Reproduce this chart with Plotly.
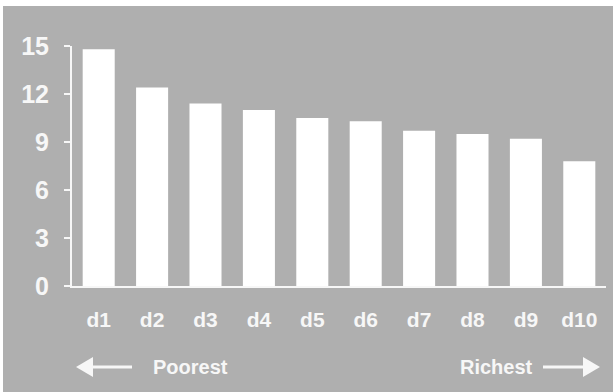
import plotly.graph_objects as go

categories = ["d1", "d2", "d3", "d4", "d5", "d6", "d7", "d8", "d9", "d10"]
values = [14.8, 12.4, 11.4, 11.0, 10.5, 10.3, 9.7, 9.5, 9.2, 7.8]
y_ticks = [0, 3, 6, 9, 12, 15]
left_label = "Poorest"
right_label = "Richest"

W, H = 613, 392
L, R, T, B = 72, 7, 46, 106
PW, PH = W - L - R, H - T - B
BG = "#afafaf"
FG = "#f7f7f7"
FONT = "Liberation Sans, Arial, sans-serif"


def px(x):
    return (x - L) / PW


def py(y):
    return (H - B - y) / PH


fig = go.Figure()
fig.add_trace(go.Bar(x=categories, y=values, marker=dict(color="#ffffff", line=dict(width=0)),
                     width=0.6))

shapes = [
    dict(type="rect", xref="paper", yref="paper", x0=px(3), x1=px(W + 2), y0=py(H + 2), y1=py(6),
         fillcolor=BG, line=dict(width=0), layer="below"),
    # left arrow
    dict(type="line", xref="paper", yref="paper", x0=px(90), x1=px(132), y0=py(367), y1=py(367),
         line=dict(color=FG, width=3)),
    dict(type="path", xref="paper", yref="paper",
         path=f"M {px(76)} {py(367)} L {px(93)} {py(357)} L {px(93)} {py(377)} Z",
         fillcolor=FG, line=dict(width=0)),
    # right arrow
    dict(type="line", xref="paper", yref="paper", x0=px(543), x1=px(585), y0=py(367), y1=py(367),
         line=dict(color=FG, width=3)),
    dict(type="path", xref="paper", yref="paper",
         path=f"M {px(600)} {py(367)} L {px(583)} {py(357)} L {px(583)} {py(377)} Z",
         fillcolor=FG, line=dict(width=0)),
]

annotations = [
    dict(text=left_label, xref="paper", yref="paper", x=px(190), y=py(367),
         showarrow=False, font=dict(family=FONT, size=20, color=FG, weight="bold"),
         xanchor="center", yanchor="middle"),
    dict(text=right_label, xref="paper", yref="paper", x=px(497), y=py(367),
         showarrow=False, font=dict(family=FONT, size=20, color=FG, weight="bold"),
         xanchor="center", yanchor="middle"),
]

fig.update_layout(
    width=W, height=H,
    margin=dict(l=L, r=R, t=T, b=B, pad=0),
    paper_bgcolor="#ffffff",
    plot_bgcolor="rgba(0,0,0,0)",
    bargap=0.4,
    showlegend=False,
    shapes=shapes,
    annotations=annotations,
    xaxis=dict(
        showline=True, linecolor=FG, linewidth=2, ticks="", showgrid=False,
        tickfont=dict(family=FONT, size=21, color=FG, weight="bold"), ticklabelstandoff=14,
    ),
    yaxis=dict(
        range=[0, 15], tickvals=y_ticks, showline=True, linecolor=FG, linewidth=2,
        ticks="outside", ticklen=6, tickwidth=2, tickcolor=FG, showgrid=False, zeroline=False,
        tickfont=dict(family=FONT, size=25, color=FG, weight="bold"), ticklabelstandoff=10,
    ),
)

fig.write_html("out.html")
